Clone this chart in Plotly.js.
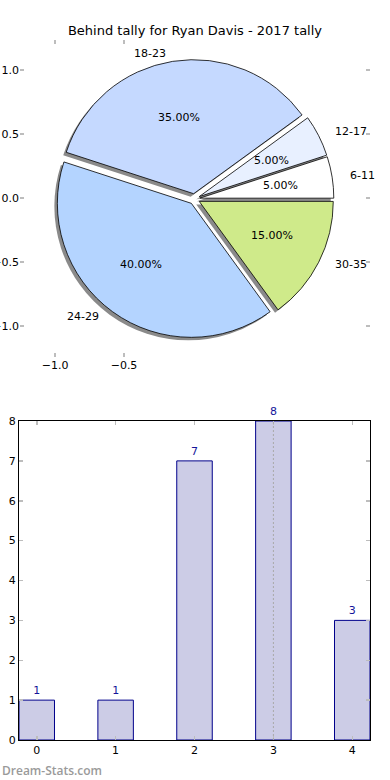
<!DOCTYPE html>
<html><head><meta charset="utf-8">
<script src="https://cdn.plot.ly/plotly-3.0.1.min.js"></script>
<style>html,body{margin:0;padding:0;background:#fff}#chart{width:390px;height:780px}</style>
</head><body><div id="chart"></div>
<script>
const chartTitle = 'Behind tally for Ryan Davis - 2017 tally';
const pieLabels = ['6-11', '12-17', '18-23', '24-29', '30-35'];
const pieValues = [5, 5, 35, 40, 15];
const pieColors = ['#ffffff', '#e8f0ff', '#c5d9ff', '#b4d4ff', '#cfea8a'];
const piePull = [0.04, 0.04, 0.04, 0.04, 0.04];
const pieXTicks = [-1.0, -0.5];
const pieYTicks = [-1.0, -0.5, 0.0, 0.5, 1.0];
const barCategories = [0, 1, 2, 3, 4];
const barValues = [1, 1, 7, 8, 3];
const barYTicks = [0, 1, 2, 3, 4, 5, 6, 7, 8];
const highlightCategory = 3;
const watermark = 'Dream-Stats.com';

const W = 390, H = 780;
const FONT = 'DejaVu Sans, sans-serif';
const px = v => v / W, py = v => 1 - v / H;

// pie axes box (pixels) and ranges
const pieBox = {l: 20, r: 370, t: 40, b: 357};
const pieXRange = [-1.254, 1.283];
const pieYRange = [-1.242, 1.234];
// pie placement (pixels)
const cx = 194.5, cy = 199;
const R = 134;
const maxPull = Math.max(...piePull);
const half = R * (1 + maxPull);
function pieDomain(dx, dy) {
  return {x: [px(cx - half + dx), px(cx + half + dx)], y: [py(cy + half + dy), py(cy - half + dy)]};
}

const total = pieValues.reduce((a, b) => a + b, 0);
const startRot = 90 - pieValues[0] / total * 360;

const shadow = {
  type: 'pie', labels: pieLabels, values: pieValues, sort: false,
  direction: 'counterclockwise', rotation: startRot, pull: piePull,
  marker: {colors: pieValues.map(() => '#8a8a8a'), line: {width: 0}},
  textinfo: 'none', hoverinfo: 'skip', showlegend: false,
  domain: pieDomain(-3, 3)
};
const pie = {
  type: 'pie', labels: pieLabels, values: pieValues, sort: false,
  direction: 'counterclockwise', rotation: startRot, pull: piePull,
  marker: {colors: pieColors, line: {color: '#000000', width: 0.8}},
  textinfo: 'none', hoverinfo: 'label+percent', showlegend: false,
  domain: pieDomain(0, 0)
};
// empty trace to anchor pie axes
const pieAxesTrace = {type: 'scatter', x: [], y: [], xaxis: 'x', yaxis: 'y', showlegend: false, hoverinfo: 'skip'};

const bars = {
  type: 'bar', x: barCategories, y: barValues, width: 0.45,
  xaxis: 'x2', yaxis: 'y2',
  marker: {color: 'rgb(204,204,230)', line: {color: '#00008b', width: 1}},
  text: barValues.map(String), textposition: 'outside', cliponaxis: false,
  textfont: {family: FONT, size: 11, color: '#14149a'},
  hoverinfo: 'x+y', showlegend: false
};

// labels for pie slices (matplotlib-style positions)
const annotations = [];
let cum = 0;
pieValues.forEach((v, i) => {
  const mid = (cum + v / 2) / total * 2 * Math.PI;
  cum += v;
  const e = piePull[i];
  const c = Math.cos(mid), s = Math.sin(mid);
  annotations.push({
    xref: 'x', yref: 'y', x: (1.1 + e) * c, y: (1.1 + e) * s,
    text: pieLabels[i], showarrow: false,
    xanchor: c >= 0 ? 'left' : 'right', yanchor: 'middle',
    font: {family: FONT, size: 11, color: '#000'}
  });
  annotations.push({
    xref: 'x', yref: 'y', x: (0.6 + e) * c, y: (0.6 + e) * s,
    text: (v / total * 100).toFixed(2) + '%', showarrow: false,
    xanchor: 'center', yanchor: 'middle',
    font: {family: FONT, size: 11, color: '#000'}
  });
});
annotations.push({
  xref: 'paper', yref: 'paper', x: 0, y: py(770), xanchor: 'left', yanchor: 'middle',
  text: watermark, showarrow: false,
  font: {family: 'Open Sans, sans-serif', size: 12, weight: 600, color: '#9a9a9a'}
});

const tickStyle = {ticks: 'inside', ticklen: 4, tickwidth: 1.5, tickcolor: '#bdbdbd',
  tickfont: {family: FONT, size: 11, color: '#000'}, showgrid: false, zeroline: false};

const layout = {
  width: W, height: H,
  margin: {l: 0, r: 0, t: 0, b: 0},
  paper_bgcolor: '#ffffff', plot_bgcolor: 'rgba(0,0,0,0)',
  showlegend: false,
  title: {text: chartTitle, x: 0.5, xanchor: 'center', y: py(30), yanchor: 'middle',
    font: {family: FONT, size: 13, color: '#000'}},
  xaxis: Object.assign({}, tickStyle, {
    domain: [px(pieBox.l), px(pieBox.r)], range: pieXRange, anchor: 'y',
    tickvals: pieXTicks, tickformat: '.1f', showline: false, mirror: 'ticks', fixedrange: true
  }),
  yaxis: Object.assign({}, tickStyle, {
    domain: [py(pieBox.b), py(pieBox.t)], range: pieYRange, anchor: 'x',
    tickvals: pieYTicks, tickformat: '.1f', showline: false, mirror: 'ticks', fixedrange: true
  }),
  xaxis2: Object.assign({}, tickStyle, {
    domain: [px(19), px(370)], range: [-0.225, 4.225], anchor: 'y2',
    tickvals: barCategories, showline: true, linecolor: '#000', linewidth: 1, mirror: 'ticks'
  }),
  yaxis2: Object.assign({}, tickStyle, {
    domain: [py(740), py(421)], range: [0, Math.max(...barYTicks)], anchor: 'x2',
    tickvals: barYTicks, showline: true, linecolor: '#000', linewidth: 1, mirror: 'ticks'
  }),
  shapes: [{
    type: 'line', xref: 'x2', yref: 'y2', x0: highlightCategory, x1: highlightCategory,
    y0: 0, y1: Math.max(...barYTicks), layer: 'above',
    line: {color: '#a8a8a8', width: 1, dash: '2px,2px'}
  }],
  annotations: annotations
};

Plotly.newPlot('chart', [pieAxesTrace, shadow, pie, bars], layout, {displayModeBar: false, staticPlot: true});
</script>
</body></html>
